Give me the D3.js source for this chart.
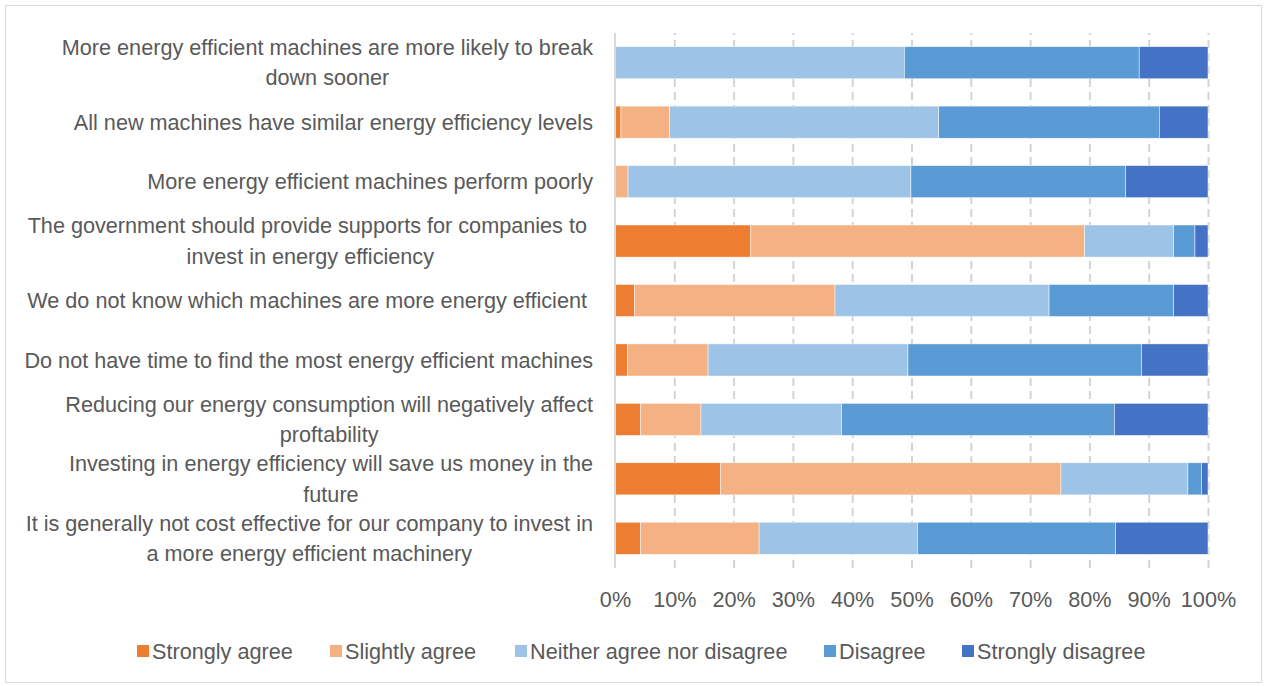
<!DOCTYPE html>
<html>
<head>
<meta charset="utf-8">
<script src="https://cdn.jsdelivr.net/npm/d3@7"></script>
<style>
  html, body { margin: 0; padding: 0; background: #fff; }
  svg { display: block; }
  text { font-family: "Liberation Sans", Arial, sans-serif; fill: #595959; white-space: pre; }
</style>
</head>
<body>
<svg id="chart" width="1264" height="686"></svg>
<script>
// Survey statements, top to bottom ("|" marks a line break)
const categories = [
  "More energy efficient machines are more likely to break|down sooner",
  "All new machines have similar energy efficiency levels",
  "More energy efficient machines perform poorly",
  "The government should provide supports for companies to |invest in energy efficiency",
  "We do not know which machines are more energy efficient ",
  "Do not have time to find the most energy efficient machines",
  "Reducing our energy consumption will negatively affect|proftability",
  "Investing in energy efficiency will save us money in the|future",
  "It is generally not cost effective for our company to invest in|a more energy efficient machinery"
];

const seriesNames = ["Strongly agree", "Slightly agree", "Neither agree nor disagree", "Disagree", "Strongly disagree"];
const seriesColors = ["#ED7D31", "#F4B183", "#9DC3E6", "#5B9BD5", "#4472C4"];

// Share of responses (%) per statement, same order as categories
const stronglyAgree    = [0,    1.0,  0,    22.9, 3.3,  2.1,  4.3,  17.8, 4.3];
const slightlyAgree    = [0,    8.2,  2.2,  56.3, 33.8, 13.6, 10.2, 57.4, 20.0];
const neitherAgree     = [48.8, 45.4, 47.7, 15.0, 36.1, 33.7, 23.7, 21.4, 26.7];
const disagree         = [39.6, 37.2, 36.2, 3.6,  21.0, 39.4, 46.0, 2.3,  33.4];
const stronglyDisagree = [11.6, 8.2,  13.9, 2.2,  5.8,  11.2, 15.8, 1.1,  15.6];

const tickValues = [0, 0.1, 0.2, 0.3, 0.4, 0.5, 0.6, 0.7, 0.8, 0.9, 1.0];

const svg = d3.select("#chart");
const W = 1264, H = 686;

// Outer chart border
svg.append("rect")
  .attr("x", 5.5).attr("y", 5.5)
  .attr("width", W - 8).attr("height", H - 9)
  .attr("fill", "#fff").attr("stroke", "#d9d9d9").attr("stroke-width", 1);

// Pick a font size so the text runs at about the same width as the original typeface
const probe = svg.append("text").attr("font-size", 20)
  .text("Do not have time to find the most energy efficient machines");
const fs = 20 * 569 / probe.node().getComputedTextLength();
probe.remove();

const plot = { left: 615, right: 1208, top: 33, bottom: 568 };

const x = d3.scaleLinear().domain([0, 1]).range([plot.left, plot.right]);
const y = d3.scaleBand().domain(categories).range([plot.top, plot.bottom]).paddingInner(0.46).paddingOuter(0.23);

// Build the stacked table
const table = categories.map((c, i) => {
  const vals = [stronglyAgree[i], slightlyAgree[i], neitherAgree[i], disagree[i], stronglyDisagree[i]];
  const total = d3.sum(vals);
  const row = { category: c };
  seriesNames.forEach((s, j) => row[s] = vals[j] / total);
  return row;
});
const stacked = d3.stack().keys(seriesNames)(table);

// Dashed vertical gridlines
const xAxisGrid = d3.axisBottom(x).tickValues(tickValues.slice(1))
  .tickSize(-(plot.bottom - plot.top)).tickFormat("");
svg.append("g")
  .attr("transform", `translate(0,${plot.bottom})`)
  .call(xAxisGrid)
  .call(g => g.select(".domain").remove())
  .call(g => g.selectAll("line")
    .attr("stroke", "#d4d4d4").attr("stroke-width", 2).attr("stroke-dasharray", "8,5"));

// Bars
svg.append("g").selectAll("g")
  .data(stacked)
  .join("g")
  .attr("fill", (d, i) => seriesColors[i])
  .selectAll("rect")
  .data(d => d)
  .join("rect")
  .attr("x", d => x(d[0]))
  .attr("width", d => Math.max(0, x(d[1]) - x(d[0])))
  .attr("y", d => y(d.data.category))
  .attr("height", y.bandwidth())
  .attr("stroke", "#fff").attr("stroke-width", 0.6).attr("stroke-opacity", 0.8);

// Category axis line
svg.append("line")
  .attr("x1", plot.left).attr("x2", plot.left)
  .attr("y1", plot.top).attr("y2", plot.bottom)
  .attr("stroke", "#d9d9d9").attr("stroke-width", 2);

// Percentage tick labels
const xAxis = d3.axisBottom(x).tickValues(tickValues).tickSize(0).tickPadding(0)
  .tickFormat(d3.format(".0%"));
svg.append("g")
  .attr("transform", `translate(0,${plot.bottom + 39})`)
  .call(xAxis)
  .call(g => g.select(".domain").remove())
  .call(g => g.selectAll("text")
    .attr("font-size", fs).attr("dy", 0).attr("fill", "#595959")
    .style("font-family", "'Liberation Sans', Arial, sans-serif"));

// Category labels: block right-aligned to the axis, lines centred inside the block
const labelRight = 593;
const lineH = fs * 1.4;
categories.forEach(c => {
  const lines = c.split("|");
  const g = svg.append("g");
  const texts = lines.map(l => g.append("text").attr("font-size", fs).text(l));
  const widths = texts.map(t => t.node().getComputedTextLength());
  const blockW = d3.max(widths);
  const cx = labelRight - blockW / 2;
  const cy = y(c) + y.bandwidth() / 2;
  const n = lines.length;
  texts.forEach((t, k) => {
    t.attr("x", cx).attr("text-anchor", "middle")
      .attr("y", cy + (k - (n - 1) / 2) * lineH)
      .attr("dy", "0.35em");
  });
});

// Legend
const legendY = 651;
const legendX = [137, 330, 515, 824, 962];
const legend = svg.append("g");
seriesNames.forEach((s, i) => {
  legend.append("rect")
    .attr("x", legendX[i]).attr("y", legendY - 6)
    .attr("width", 12).attr("height", 12)
    .attr("fill", seriesColors[i]);
  legend.append("text")
    .attr("x", legendX[i] + 15).attr("y", legendY)
    .attr("dy", "0.35em").attr("font-size", fs)
    .text(s);
});
</script>
</body>
</html>
